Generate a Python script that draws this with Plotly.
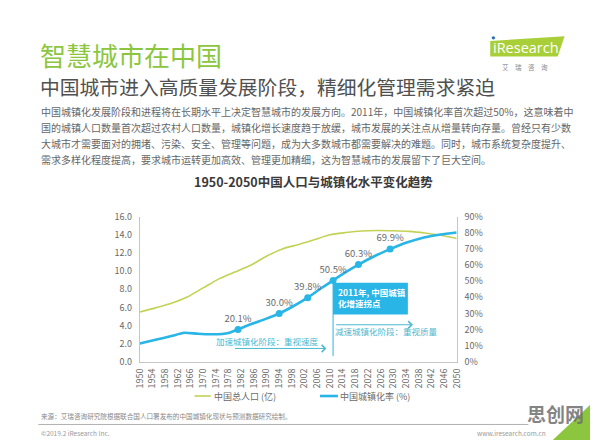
import plotly.graph_objects as go

W, H = 596, 446

# ---------------- data ----------------
pop_years = [1950, 1955, 1960, 1965, 1970, 1975, 1980, 1985, 1990, 1995, 2000,
             2005, 2010, 2015, 2020, 2025, 2030, 2035, 2040, 2045, 2050]
pop_values = [5.5, 5.95, 6.45, 7.15, 8.15, 9.15, 9.9, 10.65, 11.65, 12.45, 12.92,
              13.45, 14.0, 14.25, 14.43, 14.48, 14.45, 14.38, 14.2, 13.95, 13.6]

urb_years = [1950, 1955, 1960, 1964, 1968, 1972, 1976, 1978, 1981, 1985, 1990, 1994,
             1998, 2003, 2007, 2011, 2015, 2019, 2024, 2029, 2034, 2040, 2045, 2050]
urb_values = [11.4, 13.7, 16.0, 18.0, 17.5, 17.1, 17.3, 17.9, 20.1, 23.3, 26.8, 30.0,
              34.0, 39.8, 45.3, 50.5, 55.6, 60.3, 65.5, 69.9, 73.8, 77.3, 79.0, 80.2]

mark_years = [1981, 1994, 2003, 2011, 2019, 2029]
mark_values = [20.1, 30.0, 39.8, 50.5, 60.3, 69.9]

x_ticks = list(range(1950, 2051, 4))
y_left_ticks = [0, 2, 4, 6, 8, 10, 12, 14, 16]
y_right_ticks = [0, 10, 20, 30, 40, 50, 60, 70, 80, 90]
y_right_labels = [f"{v}%" for v in y_right_ticks]

pop_name = "中国总人口 (亿)"
urb_name = "中国城镇化率 (%)"

GREEN = "#c3d255"
BLUE = "#29b5e5"
TEAL = "#4bb9cf"
FONT = "Noto Sans CJK SC, Noto Sans, sans-serif"


def px(x):
    return x / W


def py(y):
    return 1 - y / H


fig = go.Figure()
fig.add_trace(go.Scatter(x=pop_years, y=pop_values, mode="lines", name=pop_name,
                         line=dict(color=GREEN, width=1.6, shape="spline", smoothing=0.8),
                         yaxis="y", hoverinfo="skip", showlegend=False))
fig.add_trace(go.Scatter(x=urb_years, y=urb_values, mode="lines", name=urb_name,
                         line=dict(color=BLUE, width=2.6, shape="spline", smoothing=0.5),
                         yaxis="y2", hoverinfo="skip", showlegend=False))
fig.add_trace(go.Scatter(x=mark_years, y=mark_values, mode="markers+text",
                         text=[f"{v:.1f}%" for v in mark_values], textposition="top center",
                         textfont=dict(size=9.5, color="#6a6a6a", family=FONT),
                         marker=dict(size=7, color=BLUE), yaxis="y2",
                         hoverinfo="skip", showlegend=False))

x0d, x1d = 135.7, 459.7
ytop, ybot = 216, 365.5

fig.update_layout(
    width=W, height=H, autosize=False,
    margin=dict(l=0, r=0, t=0, b=0),
    paper_bgcolor="white", plot_bgcolor="white",
    font=dict(family=FONT, color="#666"),
    xaxis=dict(domain=[px(x0d), px(x1d)], range=[1950, 2050], tickvals=x_ticks,
               tickangle=-90, tickfont=dict(size=9, color="#6a6a6a"),
               showline=True, linecolor="#c6c6c6", linewidth=1, ticks="",
               showgrid=False, zeroline=False, ticklabelstandoff=2),
    yaxis=dict(domain=[py(ybot), py(ytop)], range=[0, 16], tickvals=y_left_ticks,
               tickformat=".1f", tickfont=dict(size=9, color="#6a6a6a"),
               showline=True, linecolor="#c6c6c6", linewidth=1, ticks="",
               showgrid=False, zeroline=False, ticklabelstandoff=5),
    yaxis2=dict(overlaying="y", side="right", range=[0, 90], tickmode="array",
                tickvals=y_right_ticks, ticktext=y_right_labels,
                tickfont=dict(size=9, color="#6a6a6a"),
                showline=True, linecolor="#c6c6c6", linewidth=1, ticks="",
                showgrid=False, zeroline=False, ticklabelstandoff=5),
)

shapes = []
annots = []

# 2011 turning point line and box
shapes.append(dict(type="line", xref="x", yref="y2", x0=2011, x1=2011, y0=50.5, y1=3.7,
                   line=dict(color=BLUE, width=1)))
shapes.append(dict(type="rect", xref="x", yref="y2", x0=2011, x1=2034.6, y0=29.4, y1=49.1,
                   fillcolor=BLUE, line=dict(width=0), layer="below"))
annots.append(dict(xref="x", yref="y2", x=2011.8, y=39.6, xanchor="left", yanchor="middle",
                   text="<b>2011年, 中国城镇<br>化增速拐点</b>", align="left", showarrow=False,
                   font=dict(size=8.5, color="white", family=FONT)))

# phase arrows
annots.append(dict(xref="x", yref="y2", axref="x", ayref="y2", x=2008.9, y=8.3,
                   ax=1979.6, ay=8.3, text="", showarrow=True, arrowhead=4, arrowsize=1.4,
                   arrowwidth=1, arrowcolor=TEAL))
annots.append(dict(xref="x", yref="y2", axref="x", ayref="y2", x=2036.2, y=23.0,
                   ax=2011.5, ay=23.0, text="", showarrow=True, arrowhead=4, arrowsize=1.4,
                   arrowwidth=1, arrowcolor=TEAL))
annots.append(dict(xref="x", yref="y2", x=1990.2, y=12.9, text="加速城镇化阶段：重视速度",
                   showarrow=False, font=dict(size=8.5, color=TEAL, family=FONT)))
annots.append(dict(xref="x", yref="y2", x=2027.9, y=19.0, text="减速城镇化阶段：重视质量",
                   showarrow=False, font=dict(size=8.5, color=TEAL, family=FONT)))

# legend (manual)
ly = 400.7
shapes.append(dict(type="line", xref="paper", yref="paper", x0=px(191.7), x1=px(208.3),
                   y0=py(ly), y1=py(ly), line=dict(color=GREEN, width=1.6)))
annots.append(dict(xref="paper", yref="paper", x=px(209.5), y=py(ly), xanchor="left",
                   yanchor="middle", text=pop_name, showarrow=False,
                   font=dict(size=9, color="#6a6a6a", family=FONT)))
shapes.append(dict(type="line", xref="paper", yref="paper", x0=px(320), x1=px(338.3),
                   y0=py(ly), y1=py(ly), line=dict(color=BLUE, width=2.6)))
annots.append(dict(xref="paper", yref="paper", x=px(338.5), y=py(ly), xanchor="left",
                   yanchor="middle", text=urb_name, showarrow=False,
                   font=dict(size=9, color="#6a6a6a", family=FONT)))

# header texts
annots.append(dict(xref="paper", yref="paper", x=px(32), y=py(49), xanchor="left",
                   yanchor="middle", text="智慧城市在中国", showarrow=False,
                   font=dict(size=26, color="#8cc63f", family=FONT)))
annots.append(dict(xref="paper", yref="paper", x=px(32), y=py(82), xanchor="left",
                   yanchor="middle", text="中国城市进入高质量发展阶段，精细化管理需求紧迫",
                   showarrow=False, font=dict(size=19.8, color="#505050", family=FONT)))
para = [
    "中国城镇化发展阶段和进程将在长期水平上决定智慧城市的发展方向。2011年，中国城镇化率首次超过50%，这意味着中",
    "国的城镇人口数量首次超过农村人口数量，城镇化增长速度趋于放缓，城市发展的关注点从增量转向存量。曾经只有少数",
    "大城市才需要面对的拥堵、污染、安全、管理等问题，成为大多数城市都需要解决的难题。同时，城市系统复杂度提升、",
    "需求多样化程度提高，要求城市运转更加高效、管理更加精细，这为智慧城市的发展留下了巨大空间。",
]
for i, line in enumerate(para):
    annots.append(dict(xref="paper", yref="paper", x=px(33), y=py(108 + 16.3 * i),
                       xanchor="left", yanchor="middle", text=line, showarrow=False,
                       font=dict(size=10, color="#666", family=FONT)))
annots.append(dict(xref="paper", yref="paper", x=px(313), y=py(180), xanchor="center",
                   yanchor="middle", text="<b>1950-2050中国人口与城镇化水平变化趋势</b>",
                   showarrow=False, font=dict(size=12.5, color="#3a3a3a", family=FONT)))

# logo
shapes.append(dict(type="path", xref="paper", yref="paper",
                   path=f"M {px(494)} {py(51)} L {px(563)} {py(51)} L {px(570)} {py(30)} "
                        f"L {px(494)} {py(35)} Z",
                   fillcolor="#a9cf38", line=dict(width=0)))
annots.append(dict(xref="paper", yref="paper", x=px(495), y=py(42), xanchor="left",
                   yanchor="middle", text="iResearch", showarrow=False,
                   font=dict(size=14.5, color="white", family="Open Sans, sans-serif")))
shapes.append(dict(type="circle", xref="paper", yref="paper", x0=px(495.5), x1=px(499),
                   y0=py(30), y1=py(33.5), fillcolor="#2c6fb5", line=dict(width=0)))
annots.append(dict(xref="paper", yref="paper", x=px(530), y=py(62), xanchor="center",
                   yanchor="middle", text="艾　瑞　咨　询", showarrow=False,
                   font=dict(size=6.5, color="#888", family=FONT)))

# footer
annots.append(dict(xref="paper", yref="paper", x=px(33), y=py(421), xanchor="left",
                   yanchor="middle",
                   text="来源：艾瑞咨询研究院根据联合国人口署发布的中国城镇化现状与预测数据研究绘制。",
                   showarrow=False, font=dict(size=6.6, color="#888", family=FONT)))
shapes.append(dict(type="line", xref="paper", yref="paper", x0=px(32), x1=px(533),
                   y0=py(430), y1=py(430), line=dict(color="#b0b0b0", width=1)))
annots.append(dict(xref="paper", yref="paper", x=px(33), y=py(438.5), xanchor="left",
                   yanchor="middle", text="©2019.2 iResearch Inc.", showarrow=False,
                   font=dict(size=6.5, color="#999", family=FONT)))
annots.append(dict(xref="paper", yref="paper", x=px(553), y=py(439), xanchor="right",
                   yanchor="middle", text="www.iresearch.com.cn", showarrow=False,
                   font=dict(size=6.5, color="#999", family=FONT)))
shapes.append(dict(type="path", xref="paper", yref="paper",
                   path=f"M {px(596)} {py(410)} L {px(596)} {py(446)} L {px(558)} {py(446)} Z",
                   fillcolor="#8cc63f", line=dict(width=0)))
annots.append(dict(xref="paper", yref="paper", x=px(561), y=py(419), xanchor="center",
                   yanchor="middle", text="<b>思创网</b>", showarrow=False,
                   font=dict(size=19, color="rgba(110,110,110,0.85)", family=FONT)))

fig.update_layout(shapes=shapes, annotations=annots)
fig.write_html("out.html")
